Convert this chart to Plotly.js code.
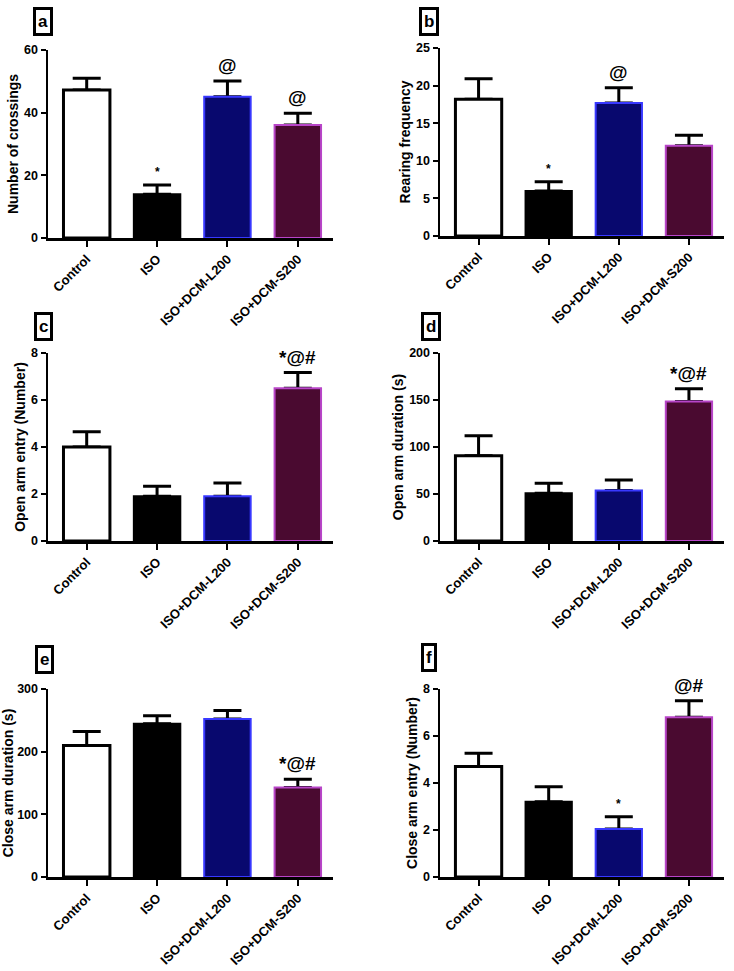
<!DOCTYPE html>
<html>
<head>
<meta charset="utf-8">
<script src="https://cdn.plot.ly/plotly-3.0.1.min.js"></script>
<style>html,body{margin:0;padding:0;background:#fff;}#chart{width:734px;height:971px;}</style>
</head>
<body>
<div id="chart"></div>
<script>
// ---- Data ----
const categories = ['Control', 'ISO', 'ISO+DCM-L200', 'ISO+DCM-S200'];

const crossingsMean = [47.2, 14.0, 45.1, 36.1];
const crossingsSem  = [3.8, 2.9, 5.0, 3.7];
const crossingsSig  = ['', '*', '@', '@'];

const rearingMean = [18.2, 6.0, 17.7, 12.0];
const rearingSem  = [2.7, 1.2, 2.0, 1.4];
const rearingSig  = ['', '*', '@', ''];

const openEntryMean = [4.0, 1.9, 1.9, 6.5];
const openEntrySem  = [0.65, 0.43, 0.57, 0.67];
const openEntrySig  = ['', '', '', '*@#'];

const openDurMean = [90.6, 50.8, 53.6, 148.5];
const openDurSem  = [21.3, 10.7, 11.4, 13.5];
const openDurSig  = ['', '', '', '*@#'];

const closeDurMean = [209.8, 244.5, 252.0, 143.0];
const closeDurSem  = [22.4, 12.8, 13.8, 12.9];
const closeDurSig  = ['', '', '', '*@#'];

const closeEntryMean = [4.7, 3.2, 2.04, 6.8];
const closeEntrySem  = [0.57, 0.64, 0.52, 0.70];
const closeEntrySig  = ['', '', '*', '@#'];

const panelLetters = ['a', 'b', 'c', 'd', 'e', 'f'];
const yTitles = ['Number of crossings', 'Rearing frequency', 'Open arm entry (Number)',
                 'Open arm duration (s)', 'Close arm duration (s)', 'Close arm entry (Number)'];
const yMax = [60, 25, 8, 200, 300, 8];
const yStep = [20, 5, 2, 50, 100, 2];

// ---- Styles ----
const fillColors = ['#ffffff', '#000000', '#08086e', '#4a0a30'];
const lineColors = ['#000000', '#000000', '#3838ff', '#b845c8'];
const lineWidths = [3, 2, 2, 2];
const FONT = 'Liberation Sans, Arial, sans-serif';

const panels = [
  {mean: crossingsMean, sem: crossingsSem, sig: crossingsSig},
  {mean: rearingMean, sem: rearingSem, sig: rearingSig},
  {mean: openEntryMean, sem: openEntrySem, sig: openEntrySig},
  {mean: openDurMean, sem: openDurSem, sig: openDurSig},
  {mean: closeDurMean, sem: closeDurSem, sig: closeDurSig},
  {mean: closeEntryMean, sem: closeEntrySem, sig: closeEntrySig}
];

// layout geometry (pixels -> paper fractions)
const W = 734, H = 971;
const xDom = [[48 / W, 333 / W], [440 / W, 724 / W]];
const yDomPx = [[50, 238], [48, 236], [353, 541], [353, 541], [689, 877], [689, 877]];
const labelPos = [[43, 21.5], [428.5, 21], [43, 327], [430.5, 327], [44, 659], [429, 657]];

const data = [];
const layout = {
  width: W, height: H,
  margin: {l: 0, r: 0, t: 0, b: 0},
  paper_bgcolor: '#ffffff', plot_bgcolor: '#ffffff',
  showlegend: false,
  barmode: 'overlay',
  bargap: 0.34,
  font: {family: FONT, color: '#000', weight: 'bold'},
  annotations: []
};

panels.forEach((p, i) => {
  const n = i + 1;
  const xa = 'x' + (n === 1 ? '' : n);
  const ya = 'y' + (n === 1 ? '' : n);
  // transparent bars carrying the one-sided (upper) SEM error bars, drawn underneath
  data.push({
    type: 'bar',
    x: categories,
    y: p.mean,
    xaxis: xa, yaxis: ya,
    marker: {color: 'rgba(0,0,0,0)', line: {width: 0}},
    error_y: {type: 'data', symmetric: false, array: p.sem,
              arrayminus: p.sem.map(() => 0), color: '#000', thickness: 3, width: 14},
    hoverinfo: 'none'
  });
  // visible bars on top
  data.push({
    type: 'bar',
    x: categories,
    y: p.mean,
    xaxis: xa, yaxis: ya,
    marker: {color: fillColors, line: {color: lineColors, width: lineWidths}},
    hoverinfo: 'none'
  });
  const col = i % 2;
  layout['xaxis' + (n === 1 ? '' : n)] = {
    domain: xDom[col], anchor: ya, type: 'category',
    range: [-0.55, 3.5],
    showline: true, linewidth: 2.5, linecolor: '#000',
    ticks: 'outside', ticklen: 6, tickwidth: 2, tickcolor: '#000',
    showgrid: false, zeroline: false,
    tickangle: -45,
    tickfont: {family: FONT, size: 13, weight: 'bold', color: '#000'}
  };
  layout['yaxis' + (n === 1 ? '' : n)] = {
    domain: [1 - yDomPx[i][1] / H, 1 - yDomPx[i][0] / H], anchor: xa,
    range: [0, yMax[i]], dtick: yStep[i], tick0: 0,
    showline: true, linewidth: 2.5, linecolor: '#000',
    ticks: 'outside', ticklen: 5, tickwidth: 2, tickcolor: '#000',
    showgrid: false, zeroline: false,
    tickfont: {family: FONT, size: 12.5, weight: 'bold', color: '#000'},
    title: {text: yTitles[i], font: {family: FONT, size: 14, weight: 'bold', color: '#000'}, standoff: 2}
  };
  // significance marks above error bars
  p.sig.forEach((s, k) => {
    if (!s) return;
    layout.annotations.push({
      xref: xa, yref: ya, x: categories[k], y: p.mean[k] + p.sem[k],
      text: s, showarrow: false, yanchor: 'bottom', yshift: s === '*' ? 4 : 3,
      font: {family: FONT, size: s === '*' ? 12 : 19, weight: 'bold', color: '#000'}
    });
  });
  // panel letter box
  layout.annotations.push({
    xref: 'paper', yref: 'paper',
    x: labelPos[i][0] / W, y: 1 - labelPos[i][1] / H,
    text: panelLetters[i], showarrow: false,
    xanchor: 'center', yanchor: 'middle',
    bordercolor: '#000', borderwidth: 3, borderpad: 2, bgcolor: '#fff',
    font: {family: FONT, size: 17, weight: 'bold', color: '#000'}
  });
});

Plotly.newPlot('chart', data, layout, {displayModeBar: false, staticPlot: true});
</script>
</body>
</html>
